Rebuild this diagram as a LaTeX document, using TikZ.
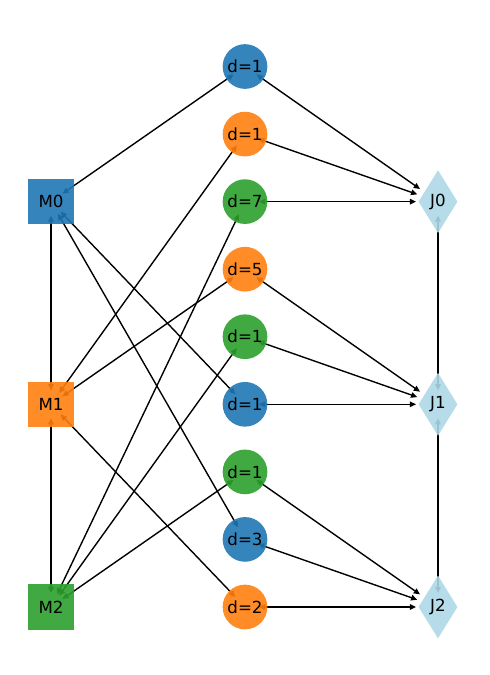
\documentclass[tikz,border=0pt]{standalone}
\usepackage{fontspec}
\setmainfont{DejaVu Sans}
\usetikzlibrary{arrows.meta,shapes.geometric,backgrounds}

\definecolor{mblue}{HTML}{1F77B4}
\definecolor{morange}{HTML}{FF7F0E}
\definecolor{mgreen}{HTML}{2CA02C}
\definecolor{jblue}{HTML}{ADD8E6}

\begin{document}
\begin{tikzpicture}[
  x=0.72pt, y=-0.72pt,
  op/.style={circle, fill=#1, fill opacity=0.9, text opacity=1, minimum size=44.7*0.72pt, inner sep=0pt},
  mach/.style={rectangle, fill=#1, fill opacity=0.9, text opacity=1, minimum size=45.5*0.72pt, inner sep=0pt},
  job/.style={diamond, fill=jblue, fill opacity=0.9, text opacity=1, minimum width=39*0.72pt, minimum height=63*0.72pt, inner sep=0pt},
  arrow/.style={{Triangle[length=4.5pt,width=4pt]}-{Triangle[length=4.5pt,width=4pt]}, line width=1pt, shorten <=10pt, shorten >=15.8pt},
  marrow/.style={arrow, shorten <=10pt, shorten >=10pt},
  font=\fontsize{12}{14}\selectfont,
]
\useasboundingbox (0,0) rectangle (490,675);

% machines
\node[mach=mblue] (m0) at (51,201.6) {M0};
\node[mach=morange] (m1) at (51,404.3) {M1};
\node[mach=mgreen] (m2) at (51,607) {M2};

% operations
\node[op=mblue] (o0) at (245,66.5) {d=1};
\node[op=morange] (o1) at (245,134.1) {d=1};
\node[op=mgreen] (o2) at (245,201.6) {d=7};
\node[op=morange] (o3) at (245,269.2) {d=5};
\node[op=mgreen] (o4) at (245,336.7) {d=1};
\node[op=mblue] (o5) at (245,404.3) {d=1};
\node[op=mgreen] (o6) at (245,471.9) {d=1};
\node[op=mblue] (o7) at (245,539.4) {d=3};
\node[op=morange] (o8) at (245,607) {d=2};

% jobs
\node[job] (j0) at (438,201.6) {J0};
\node[job] (j1) at (438,404.3) {J1};
\node[job] (j2) at (438,607) {J2};

\begin{scope}[on background layer]
\draw[marrow] (m0.center) -- (m1.center);
\draw[marrow] (m1.center) -- (m2.center);
\draw[marrow] (j0.center) -- (j1.center);
\draw[marrow] (j1.center) -- (j2.center);

\foreach \o/\m in {o0/m0, o5/m0, o7/m0, o1/m1, o3/m1, o8/m1, o2/m2, o4/m2, o6/m2}
  \draw[marrow] (\m.center) -- (\o.center);

\foreach \o/\j in {o0/j0, o1/j0, o2/j0, o3/j1, o4/j1, o5/j1, o6/j2, o7/j2, o8/j2}
  \draw[arrow] (\o.center) -- (\j.center);
\end{scope}
\end{tikzpicture}
\end{document}
